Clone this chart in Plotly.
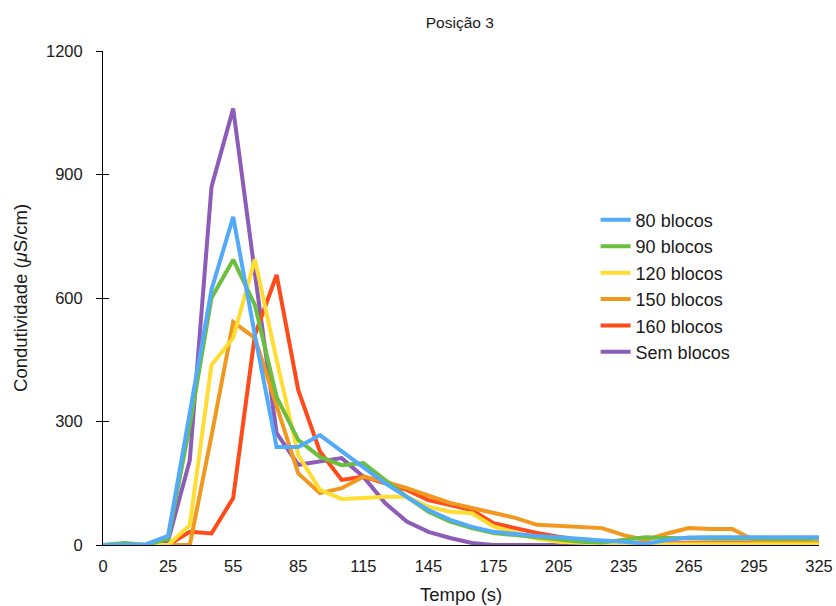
import plotly.graph_objects as go

times = [0, 5, 15, 25, 35, 45, 55, 65, 75, 85, 95, 105, 115, 125, 135, 145, 155,
         165, 175, 185, 195, 205, 215, 225, 235, 245, 255, 265, 275, 285, 295, 305, 315, 325]
tick_labels = ["0", "25", "55", "85", "115", "145", "175", "205", "235", "265", "295", "325"]
y_ticks = [0, 300, 600, 900, 1200]

b80 = [0, 0, 2, 22, 320, 620, 797, 510, 238, 238, 267, 227, 187, 150, 117, 85, 61,
       44, 32, 26, 22, 19, 14, 11, 8, 3, 12, 18, 19, 19, 19, 19, 19, 19]
b90 = [0, 5, 0, 15, 290, 600, 693, 583, 360, 255, 214, 194, 199, 158, 117, 81, 57,
       41, 29, 24, 18, 12, 8, 6, 12, 19, 17, 15, 15, 15, 15, 15, 15, 15]
b120 = [0, 0, 0, 0, 48, 437, 503, 694, 450, 218, 134, 112, 114, 117, 117, 93, 81,
        77, 45, 29, 15, 8, 5, 3, 2, 2, 2, 2, 2, 2, 2, 2, 2, 2]
b150 = [0, 0, 0, 0, 0, 265, 542, 503, 335, 174, 126, 138, 166, 154, 138, 121, 102,
        90, 77, 66, 49, 47, 44, 41, 24, 12, 28, 41, 39, 39, 12, 6, 12, 3]
b160 = [0, 0, 0, 0, 32, 28, 114, 510, 656, 376, 227, 158, 166, 150, 134, 109, 97,
        85, 53, 41, 29, 20, 12, 8, 5, 4, 4, 4, 4, 4, 4, 4, 4, 4]
sem = [0, 0, 0, 10, 206, 870, 1060, 660, 272, 195, 202, 211, 166, 102, 57, 32, 17,
       5, 0, 0, 0, 0, 0, 0, 0, 0, 0, 0, 0, 0, 0, 0, 0, 0]

names = ["80 blocos", "90 blocos", "120 blocos", "150 blocos", "160 blocos", "Sem blocos"]
series = [b80, b90, b120, b150, b160, sem]
colors = ["#52AAF8", "#6CBE3F", "#FFDD33", "#F3981F", "#FF4A1A", "#8C5CB8"]

cats = [str(t) for t in times]
fig = go.Figure()
for name, vals, col in reversed(list(zip(names, series, colors))):
    fig.add_trace(go.Scatter(x=cats, y=vals, name=name, mode="lines",
                             line=dict(color=col, width=4)))
# invisible helper trace so the overlay axis (inner half of the crossing ticks) is drawn
fig.add_trace(go.Scatter(x=[cats[0]], y=[0], yaxis="y2", mode="markers",
                         marker=dict(opacity=0), showlegend=False, hoverinfo="skip"))

font_family = "Liberation Sans, Arial, sans-serif"
fig.update_layout(
    width=836, height=606,
    margin=dict(l=103, r=17, t=51, b=61),
    paper_bgcolor="white", plot_bgcolor="white",
    font=dict(family=font_family, color="#1a1a1a", size=16),
    title=dict(text="Posição 3", x=0.55, xanchor="center", y=0.963, yanchor="middle",
               font=dict(size=15.5)),
    legend=dict(x=0.688, y=0.695, xanchor="left", yanchor="top", traceorder="reversed",
                font=dict(size=18), bgcolor="rgba(0,0,0,0)", tracegroupgap=0,
                itemwidth=30),
    showlegend=True,
    xaxis=dict(type="category", categoryorder="array", categoryarray=cats,
               range=[0, len(cats) - 1], autorange=False, automargin=False,
               tickmode="array", tickvals=tick_labels, ticktext=tick_labels,
               showgrid=False, showline=True, linecolor="black", linewidth=1,
               ticks="", tickfont=dict(size=16.5), ticklabelstandoff=6, zeroline=False),
    yaxis=dict(range=[0, 1200], tickvals=y_ticks, autorange=False, automargin=False,
               showgrid=False, showline=True, linecolor="black", linewidth=1,
               ticks="outside", ticklen=6, tickcolor="black", tickfont=dict(size=16.5),
               ticklabelstandoff=10, zeroline=False),
    yaxis2=dict(range=[0, 1200], tickvals=y_ticks, autorange=False, overlaying="y",
                side="left", anchor="x", showgrid=False, showline=False,
                ticks="inside", ticklen=6, tickcolor="black", showticklabels=False,
                zeroline=False, automargin=False),
    annotations=[
        dict(text="Tempo (s)", xref="paper", yref="paper", x=0.5, y=-0.1,
             xanchor="center", yanchor="middle", showarrow=False, font=dict(size=18.5)),
        dict(text="Condutividade (<i>μ</i>S/cm)", xref="paper", yref="paper",
             x=-0.116, y=0.5, xanchor="center", yanchor="middle", textangle=-90,
             showarrow=False, font=dict(size=18.5)),
    ],
)

fig.write_html("out.html")
